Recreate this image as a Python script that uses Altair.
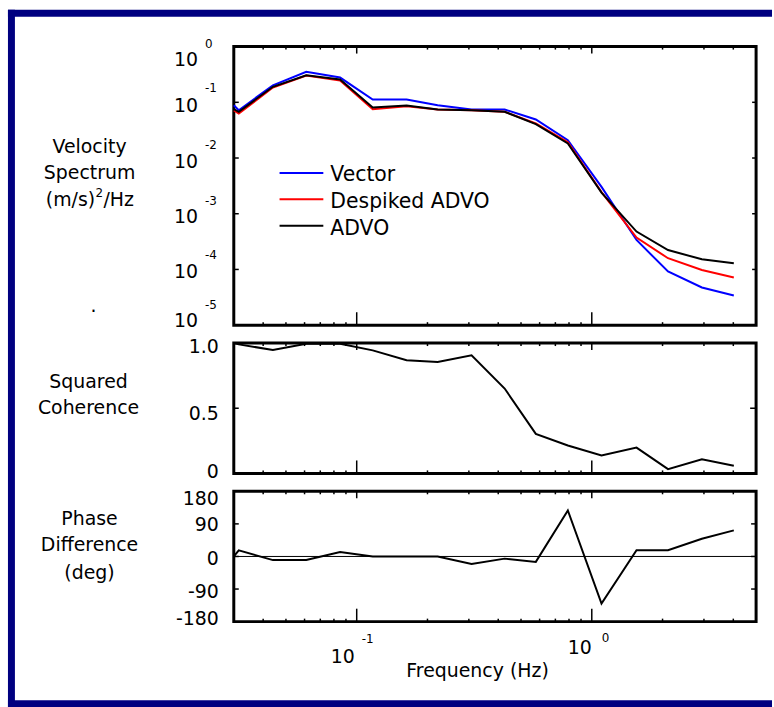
import altair as alt
import pandas as pd

# ---------------- data ----------------
freq = [0.03, 0.0315, 0.044, 0.061, 0.085, 0.117, 0.163, 0.221, 0.308, 0.426,
        0.578, 0.791, 1.10, 1.55, 2.11, 2.94, 4.02]
vector = [0.0887, 0.0721, 0.202, 0.352, 0.278, 0.112, 0.112, 0.0887, 0.0743, 0.0743,
          0.0492, 0.0209, 0.00303, 0.000338, 0.0000918, 0.0000474, 0.0000340]
despiked = [0.0713, 0.0630, 0.184, 0.302, 0.246, 0.0752, 0.0851, 0.0743, 0.0721, 0.0676,
            0.0417, 0.0191, 0.00245, 0.000373, 0.000159, 0.0000980, 0.0000716]
advo = [0.0752, 0.0676, 0.190, 0.306, 0.256, 0.0807, 0.0877, 0.0743, 0.0721, 0.0676,
        0.0406, 0.0183, 0.00239, 0.000478, 0.000223, 0.000152, 0.000129]
coherence = [1.0, 0.99, 0.947, 0.995, 0.995, 0.944, 0.868, 0.855, 0.906, 0.651,
             0.303, 0.214, 0.137, 0.198, 0.033, 0.109, 0.059]
phase = [0, 17, -10, -10, 12, 0, 0, 0, -21, -6, -15, 127, -130, 17, 17, 49, 72]

series_names = ["Vector", "Despiked ADVO", "ADVO"]
series_fields = ["vector", "despiked", "advo"]
series_colors = ["#0000ff", "#ff0000", "#000000"]

spec_ticks = [1, 0.1, 0.01, 0.001, 0.0001, 0.00001]
spec_exps = ["0", "-1", "-2", "-3", "-4", "-5"]
spec_inner_ticks = [0.1, 0.01, 0.001, 0.0001]
coh_ticks = [1.0, 0.5, 0.0]
coh_labels = ["1.0", "0.5", "0"]
phase_ticks = [180, 90, 0, -90, -180]
phase_labels = ["180", "90", "0", "-90", "-180"]
phase_inner_ticks = [90, 0, -90]
phase_zero = [0]
x_minor = [0.04, 0.05, 0.06, 0.07, 0.08, 0.09, 0.2, 0.3, 0.4, 0.5, 0.6, 0.7, 0.8, 0.9, 2, 3, 4]
x_major = [0.1, 1]
x_major_exps = ["-1", "0"]

# ---------------- layout / style ----------------
FONT = "DejaVu Sans"
FS = 19
W = 525
H1, H2, H3 = 280, 131, 131
NAVY = "#000080"

df = pd.DataFrame({"freq": freq, "vector": vector, "despiked": despiked, "advo": advo,
                   "coh": coherence, "phase": phase})
ONE = pd.DataFrame({"a": [0]})

xs = alt.Scale(type="log", domain=[0.03, 5], nice=False)
ys1 = alt.Scale(type="log", domain=[0.00001, 1], nice=False)
ys2 = alt.Scale(domain=[0, 1], nice=False, zero=False)
ys3 = alt.Scale(domain=[-180, 180], nice=False, zero=False)


def txt(s, x, y, size=FS, align="center"):
    return alt.Chart(ONE).mark_text(text=s, font=FONT, fontSize=size, align=align,
                                    baseline="middle", color="black").encode(
        x=alt.value(x), y=alt.value(y))


def rect(x, x2, y, y2):
    return alt.Chart(ONE).mark_rect(color=NAVY).encode(
        x=alt.value(x), x2=alt.value(x2), y=alt.value(y), y2=alt.value(y2))


def xtick_layers(H):
    minor = pd.DataFrame({"f": x_minor})
    major = pd.DataFrame({"f": x_major})
    out = []
    for d, top_len, bot_len in [(minor, 3, 3), (major, 7, 13)]:
        out.append(alt.Chart(d).mark_rule(color="black", strokeWidth=1.5).encode(
            x=alt.X("f:Q", scale=xs, axis=None), y=alt.value(H), y2=alt.value(H - bot_len)))
        out.append(alt.Chart(d).mark_rule(color="black", strokeWidth=1.5).encode(
            x=alt.X("f:Q", scale=xs, axis=None), y=alt.value(0), y2=alt.value(top_len)))
    return out


def ytick_layers(vals, scale, left_len=5, right_len=4):
    d = pd.DataFrame({"v": vals})
    return [
        alt.Chart(d).mark_rule(color="black", strokeWidth=1.5).encode(
            y=alt.Y("v:Q", scale=scale, axis=None), x=alt.value(0), x2=alt.value(left_len)),
        alt.Chart(d).mark_rule(color="black", strokeWidth=1.5).encode(
            y=alt.Y("v:Q", scale=scale, axis=None), x=alt.value(W), x2=alt.value(W - right_len)),
    ]


def ylabel_layers(vals, labels, scale, offsets, x=-15):
    out = []
    for v, t, off in zip(vals, labels, offsets):
        out.append(alt.Chart(pd.DataFrame({"v": [v], "t": [t]})).mark_text(
            font=FONT, fontSize=FS, align="right", baseline="middle", dy=off, color="black").encode(
            x=alt.value(x), y=alt.Y("v:Q", scale=scale, axis=None), text="t:N"))
    return out


# ---------------- top panel: spectra ----------------
top_layers = []
# outer navy frame (top, left, bottom bars), relative to top panel origin
top_layers += [rect(-227, 541, -37, -30), rect(-227, -220, -37, 664), rect(-227, 541, 657, 664)]
for f, c in zip(series_fields, series_colors):
    top_layers.append(alt.Chart(df).mark_line(color=c, strokeWidth=2).encode(
        x=alt.X("freq:Q", scale=xs, axis=None), y=alt.Y(f + ":Q", scale=ys1, axis=None)))
top_layers += xtick_layers(H1)
top_layers += ytick_layers(spec_inner_ticks, ys1, 5, 4)
ten_dy = [14, 4, 4.5, 3.6, 3, -4.5]
exp_dy = [-3, -14, -12.6, -12.4, -14, -20]
for v, e, d10, de in zip(spec_ticks, spec_exps, ten_dy, exp_dy):
    dd = pd.DataFrame({"v": [v], "t": ["10"], "e": [e]})
    top_layers.append(alt.Chart(dd).mark_text(font=FONT, fontSize=FS, align="right", baseline="middle",
                                              dy=d10, color="black").encode(
        x=alt.value(-36), y=alt.Y("v:Q", scale=ys1, axis=None), text="t:N"))
    top_layers.append(alt.Chart(dd).mark_text(font=FONT, fontSize=12, align="left", baseline="middle",
                                              dy=de, color="black").encode(
        x=alt.value(-29), y=alt.Y("v:Q", scale=ys1, axis=None), text="e:N"))
# legend
leg_line_y = [127, 153.5, 180]
leg_text_y = [129.5, 156.5, 183.5]
for name, c, ly, ty in zip(series_names, series_colors, leg_line_y, leg_text_y):
    top_layers.append(alt.Chart(ONE).mark_rule(color=c, strokeWidth=2).encode(
        x=alt.value(46), x2=alt.value(90), y=alt.value(ly)))
    top_layers.append(txt(name, 97, ty, size=20.5, align="left"))
# left title
top_layers += [txt("Velocity", -145, 101), txt("Spectrum", -145, 127),
               txt("(m/s)", -189, 154, align="left"), txt("2", -139, 147, size=12, align="left"),
               txt("/Hz", -131, 154, align="left"), txt(".", -141, 261)]
top = alt.layer(*top_layers).properties(width=W, height=H1)

# ---------------- middle panel: coherence ----------------
mid_layers = [alt.Chart(df).mark_line(color="black", strokeWidth=2).encode(
    x=alt.X("freq:Q", scale=xs, axis=None), y=alt.Y("coh:Q", scale=ys2, axis=None))]
mid_layers += xtick_layers(H2)
mid_layers += ytick_layers([0.5], ys2, 5, 6)
mid_layers += ylabel_layers(coh_ticks, coh_labels, ys2, [4, 6, -1])
mid_layers += [txt("Squared", -146, 39), txt("Coherence", -146, 65.7)]
mid = alt.layer(*mid_layers).properties(width=W, height=H2)

# ---------------- bottom panel: phase ----------------
bot_layers = [
    alt.Chart(pd.DataFrame({"v": phase_zero})).mark_rule(color="black", strokeWidth=1).encode(
        y=alt.Y("v:Q", scale=ys3, axis=None), x=alt.value(0), x2=alt.value(W)),
    alt.Chart(df).mark_line(color="black", strokeWidth=2).encode(
        x=alt.X("freq:Q", scale=xs, axis=None), y=alt.Y("phase:Q", scale=ys3, axis=None)),
]
bot_layers += xtick_layers(H3)
bot_layers += ytick_layers(phase_inner_ticks, ys3, 5, 5)
bot_layers += ylabel_layers(phase_ticks, phase_labels, ys3, [8, 1, 2.5, 3, -3])
# x tick labels 10^n
xl = pd.DataFrame({"f": x_major, "t": ["10", "10"], "e": x_major_exps})
ten_dx = [-2, 0]
ten_y = [166.7, 158]
exp_dx = [5, 10]
exp_y = [148, 147]
for i in range(len(x_major)):
    row = xl.iloc[[i]]
    bot_layers.append(alt.Chart(row).mark_text(font=FONT, fontSize=FS, align="right", baseline="middle",
                                               dx=ten_dx[i], color="black").encode(
        x=alt.X("f:Q", scale=xs, axis=None), y=alt.value(ten_y[i]), text="t:N"))
    bot_layers.append(alt.Chart(row).mark_text(font=FONT, fontSize=12, align="left", baseline="middle",
                                               dx=exp_dx[i], color="black").encode(
        x=alt.X("f:Q", scale=xs, axis=None), y=alt.value(exp_y[i]), text="e:N"))
bot_layers += [txt("Frequency (Hz)", 245, 181),
               txt("Phase", -145, 28), txt("Difference", -145, 54), txt("(deg)", -145, 81.7)]
bot = alt.layer(*bot_layers).properties(width=W, height=H3)

chart = alt.vconcat(top, mid, bot, spacing=18, bounds="flush").properties(
    padding={"left": 6, "top": 6, "right": 0, "bottom": 0},
    background="white",
).configure_view(stroke="black", strokeWidth=3)

chart.save("out.html", embed_options={"renderer": "svg", "actions": False})
